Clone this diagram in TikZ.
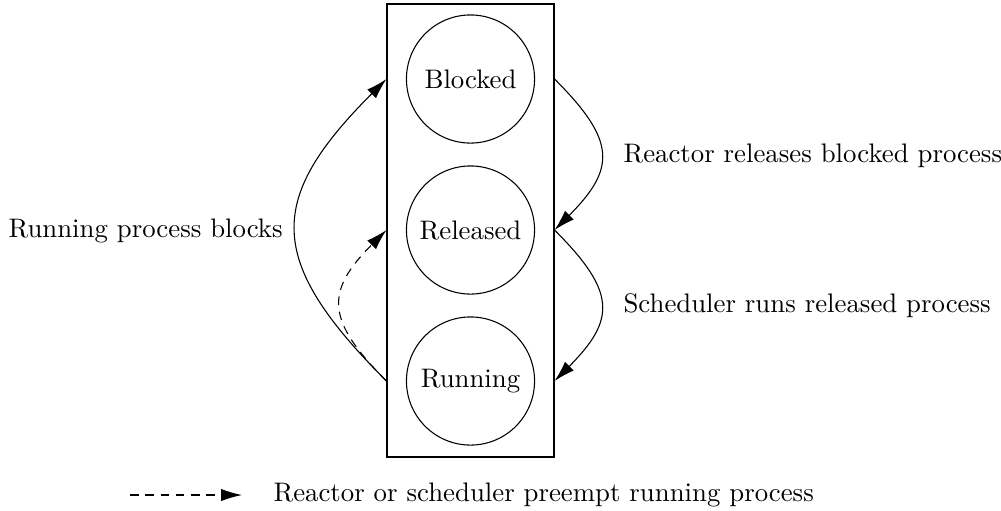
\documentclass[tikz,border=0pt]{standalone}
\usetikzlibrary{arrows.meta}
\begin{document}
\begin{tikzpicture}[x=0.3731pt,y=-0.3731pt,
  state/.style={draw,circle,minimum size=47.8pt,inner sep=0pt},
  trans/.style={-{Latex[length=7.8pt,width=4.6pt]}},
  dashline/.style={dash pattern=on 3.2pt off 2.5pt},
  lbl/.style={anchor=base west,inner sep=0pt}]
\useasboundingbox (0,0) rectangle (1001,510);
\node (box) [draw,inner sep=0pt,minimum width=62.3pt,minimum height=169pt] at (470.5,230.5) {};
\node (blocked) [state] at (470.5,79) {Blocked};
\node (released) [state] at (470.5,230) {Released};
\node (running) [state] at (470.5,381) {Running};
\coordinate (bw) at (box.west |- blocked);
\coordinate (lw) at (box.west |- released);
\coordinate (rw) at (box.west |- running);
\coordinate (be) at (box.east |- blocked);
\coordinate (le) at (box.east |- released);
\coordinate (re) at (box.east |- running);
\draw[trans] (rw) to[out=135,in=-135,looseness=1.45] (bw);
\draw[trans,dashline] (rw) to[out=135,in=-135,looseness=1.47] (lw);
\draw[trans] (be) to[out=-45,in=45,looseness=1.48] (le);
\draw[trans] (le) to[out=-45,in=45,looseness=1.48] (re);
\node (l1) [lbl] at (8,237) {Running process blocks};
\node (l2) [lbl] at (623,162) {Reactor releases blocked process};
\node (l3) [lbl] at (623,312) {Scheduler runs released process};
\coordinate (ls) at (130,495);
\coordinate (le2) at (242,495);
\draw[trans,dashline] (ls) -- (le2);
\node (l4) [lbl] at (273,501) {Reactor or scheduler preempt running process};
\end{tikzpicture}
\end{document}
